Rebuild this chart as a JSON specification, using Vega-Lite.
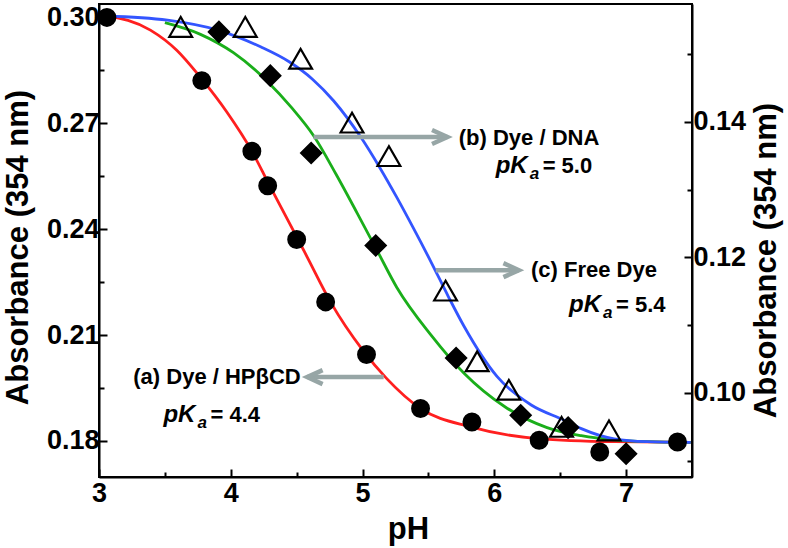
{
  "$schema": "https://vega.github.io/schema/vega-lite/v6.json",
  "width": 593,
  "height": 473,
  "autosize": {"type": "none"},
  "padding": {"left": 99, "top": 4, "right": 96, "bottom": 71},
  "background": "white",
  "config": {
    "view": {"stroke": "black", "strokeWidth": 2},
    "font": "Liberation Sans",
    "axis": {
      "grid": false,
      "domainColor": "black",
      "domainWidth": 2,
      "tickColor": "black",
      "tickWidth": 2,
      "labelFont": "Liberation Sans",
      "labelFontWeight": "bold",
      "labelFontSize": 27,
      "labelColor": "black",
      "titleFont": "Liberation Sans",
      "titleFontWeight": "bold",
      "titleFontSize": 31,
      "titleColor": "black"
    }
  },
  "datasets": {
    "curves": [
      {"s": "a", "ph": 3.05, "ab": 0.3006},
      {"s": "a", "ph": 3.39, "ab": 0.2964},
      {"s": "a", "ph": 3.59, "ab": 0.2907},
      {"s": "a", "ph": 3.77, "ab": 0.2830},
      {"s": "a", "ph": 3.97, "ab": 0.2732},
      {"s": "a", "ph": 4.16, "ab": 0.2621},
      {"s": "a", "ph": 4.29, "ab": 0.2527},
      {"s": "a", "ph": 4.52, "ab": 0.2364},
      {"s": "a", "ph": 4.58, "ab": 0.2321},
      {"s": "a", "ph": 4.76, "ab": 0.2192},
      {"s": "a", "ph": 5.00, "ab": 0.2058},
      {"s": "a", "ph": 5.18, "ab": 0.1978},
      {"s": "a", "ph": 5.44, "ab": 0.1892},
      {"s": "a", "ph": 5.82, "ab": 0.1840},
      {"s": "a", "ph": 6.33, "ab": 0.1807},
      {"s": "a", "ph": 6.91, "ab": 0.1798},
      {"s": "a", "ph": 7.49, "ab": 0.1796},
      {"s": "b", "ph": 3.50, "ab": 0.2985},
      {"s": "b", "ph": 3.77, "ab": 0.2952},
      {"s": "b", "ph": 4.02, "ab": 0.2900},
      {"s": "b", "ph": 4.28, "ab": 0.2818},
      {"s": "b", "ph": 4.46, "ab": 0.2745},
      {"s": "b", "ph": 4.63, "ab": 0.2664},
      {"s": "b", "ph": 4.80, "ab": 0.2555},
      {"s": "b", "ph": 4.96, "ab": 0.2445},
      {"s": "b", "ph": 5.11, "ab": 0.2340},
      {"s": "b", "ph": 5.26, "ab": 0.2235},
      {"s": "b", "ph": 5.52, "ab": 0.2100},
      {"s": "b", "ph": 5.77, "ab": 0.1992},
      {"s": "b", "ph": 6.08, "ab": 0.1897},
      {"s": "b", "ph": 6.40, "ab": 0.1838},
      {"s": "b", "ph": 6.66, "ab": 0.1815},
      {"s": "b", "ph": 6.91, "ab": 0.1803},
      {"s": "b", "ph": 7.16, "ab": 0.1798},
      {"s": "b", "ph": 7.49, "ab": 0.1796},
      {"s": "c", "ph": 3.05, "ab": 0.3004},
      {"s": "c", "ph": 3.52, "ab": 0.2992},
      {"s": "c", "ph": 3.90, "ab": 0.2964},
      {"s": "c", "ph": 4.23, "ab": 0.2916},
      {"s": "c", "ph": 4.44, "ab": 0.2875},
      {"s": "c", "ph": 4.62, "ab": 0.2825},
      {"s": "c", "ph": 4.78, "ab": 0.2764},
      {"s": "c", "ph": 4.99, "ab": 0.2659},
      {"s": "c", "ph": 5.13, "ab": 0.2575},
      {"s": "c", "ph": 5.26, "ab": 0.2490},
      {"s": "c", "ph": 5.39, "ab": 0.2400},
      {"s": "c", "ph": 5.52, "ab": 0.2307},
      {"s": "c", "ph": 5.65, "ab": 0.2210},
      {"s": "c", "ph": 5.77, "ab": 0.2125},
      {"s": "c", "ph": 6.02, "ab": 0.1983},
      {"s": "c", "ph": 6.28, "ab": 0.1902},
      {"s": "c", "ph": 6.53, "ab": 0.1859},
      {"s": "c", "ph": 6.66, "ab": 0.1835},
      {"s": "c", "ph": 6.91, "ab": 0.1806},
      {"s": "c", "ph": 7.16, "ab": 0.1798},
      {"s": "c", "ph": 7.49, "ab": 0.1796}
    ],
    "pts": [
      {"s": "c", "ph": 3.62, "ab": 0.2973},
      {"s": "c", "ph": 4.11, "ab": 0.2973},
      {"s": "c", "ph": 4.53, "ab": 0.2883},
      {"s": "c", "ph": 4.92, "ab": 0.2702},
      {"s": "c", "ph": 5.20, "ab": 0.2607},
      {"s": "c", "ph": 5.63, "ab": 0.2226},
      {"s": "c", "ph": 5.87, "ab": 0.2026},
      {"s": "c", "ph": 6.11, "ab": 0.1945},
      {"s": "c", "ph": 6.51, "ab": 0.1840},
      {"s": "c", "ph": 6.87, "ab": 0.1830},
      {"s": "a", "ph": 3.06, "ab": 0.3000},
      {"s": "a", "ph": 3.78, "ab": 0.2821},
      {"s": "a", "ph": 4.16, "ab": 0.2621},
      {"s": "a", "ph": 4.28, "ab": 0.2523},
      {"s": "a", "ph": 4.50, "ab": 0.2371},
      {"s": "a", "ph": 4.72, "ab": 0.2194},
      {"s": "a", "ph": 5.03, "ab": 0.2045},
      {"s": "a", "ph": 5.44, "ab": 0.1892},
      {"s": "a", "ph": 5.83, "ab": 0.1854},
      {"s": "a", "ph": 6.34, "ab": 0.1802},
      {"s": "a", "ph": 6.80, "ab": 0.1769},
      {"s": "a", "ph": 7.39, "ab": 0.1797},
      {"s": "b", "ph": 3.91, "ab": 0.2959},
      {"s": "b", "ph": 4.30, "ab": 0.2835},
      {"s": "b", "ph": 4.61, "ab": 0.2616},
      {"s": "b", "ph": 5.10, "ab": 0.2354},
      {"s": "b", "ph": 5.71, "ab": 0.2035},
      {"s": "b", "ph": 6.20, "ab": 0.1873},
      {"s": "b", "ph": 6.56, "ab": 0.1838},
      {"s": "b", "ph": 7.00, "ab": 0.1764}
    ],
    "arrows": [
      {"s": "a", "ph": 5.16, "to": 4.58, "ab": 0.1981, "dir": "left"},
      {"s": "b", "ph": 4.628, "to": 5.644, "ab": 0.2661, "dir": "right"},
      {"s": "c", "ph": 5.556, "to": 6.186, "ab": 0.2284, "dir": "right"}
    ],
    "names": [
      {"s": "a", "txt": "(a) Dye / HPβCD", "ph": 3.26, "ab": 0.1981},
      {"s": "b", "txt": "(b) Dye / DNA", "ph": 5.73, "ab": 0.2659},
      {"s": "c", "txt": "(c) Free Dye", "ph": 6.278, "ab": 0.2284}
    ],
    "pkas": [
      {"s": "a", "val": "= 4.4", "ph": 3.489, "ab": 0.1873},
      {"s": "b", "val": "= 5.0", "ph": 6.01, "ab": 0.2578},
      {"s": "c", "val": "= 5.4", "ph": 6.567, "ab": 0.2184}
    ]
  },
  "layer": [
    {
      "data": {"name": "curves"},
      "mark": {"type": "line", "strokeWidth": 2.8, "interpolate": "monotone"},
      "encoding": {
        "x": {
          "field": "ph", "type": "quantitative",
          "scale": {"domain": [3, 7.5], "nice": false, "zero": false},
          "axis": {
            "orient": "bottom",
            "title": "pH",
            "values": [3, 4, 5, 6, 7],
            "format": ".0f",
            "tickSize": -8,
            "labelFlush": false,
            "labelPadding": 11,
            "titlePadding": 8,
            "titleX": 309
          }
        },
        "y": {
          "field": "ab", "type": "quantitative",
          "scale": {"domain": [0.1698, 0.3038], "nice": false, "zero": false},
          "axis": {
            "orient": "left",
            "title": "Absorbance (354 nm)",
            "values": [0.18, 0.21, 0.24, 0.27, 0.3],
            "format": ".2f",
            "tickSize": -8,
            "labelPadding": 8,
            "titlePadding": 12,
            "titleY": 243
          }
        },
        "color": {
          "field": "s", "type": "nominal",
          "scale": {"domain": ["a", "b", "c"], "range": ["#ff1f1f", "#1aae1a", "#3355ff"]},
          "legend": null
        }
      }
    },
    {
      "data": {"name": "pts"},
      "mark": {"type": "point", "opacity": 0},
      "encoding": {
        "x": {
          "field": "ph", "type": "quantitative",
          "axis": {"orient": "bottom", "values": [3.5, 4.5, 5.5, 6.5], "tickSize": -5, "labels": false, "domain": false, "title": null}
        },
        "y": {
          "field": "ab", "type": "quantitative",
          "scale": {"domain": [0.1698, 0.3038], "nice": false, "zero": false},
          "axis": {"orient": "left", "values": [0.195, 0.225, 0.255, 0.285], "tickSize": -5, "labels": false, "domain": false, "title": null}
        }
      }
    },
    {
      "data": {"name": "pts"},
      "mark": {"type": "point", "filled": true, "strokeWidth": 2.2, "opacity": 1},
      "encoding": {
        "x": {"field": "ph", "type": "quantitative", "axis": null},
        "y": {"field": "ab", "type": "quantitative", "scale": {"domain": [0.1698, 0.3038], "nice": false, "zero": false}, "axis": null},
        "shape": {
          "field": "s", "type": "nominal",
          "scale": {"domain": ["a", "b", "c"], "range": ["circle", "diamond", "triangle-up"]},
          "legend": null
        },
        "fill": {
          "field": "s", "type": "nominal",
          "scale": {"domain": ["a", "b", "c"], "range": ["black", "black", "transparent"]},
          "legend": null
        },
        "size": {
          "field": "s", "type": "ordinal",
          "scale": {"domain": ["a", "b", "c"], "range": [280, 520, 380]},
          "legend": null
        },
        "stroke": {"value": "black"}
      }
    },
    {
      "data": {"name": "arrows"},
      "mark": {"type": "rule", "strokeWidth": 4.5, "color": "#97a6a6"},
      "encoding": {
        "x": {"field": "ph", "type": "quantitative", "axis": null},
        "x2": {"field": "to"},
        "y": {"field": "ab", "type": "quantitative", "scale": {"domain": [0.1698, 0.3038], "nice": false, "zero": false}, "axis": null}
      }
    },
    {
      "data": {"name": "arrows"},
      "mark": {"type": "point", "filled": false, "strokeWidth": 4.5, "color": "#97a6a6", "opacity": 1, "size": 196, "strokeJoin": "miter"},
      "encoding": {
        "x": {"field": "to", "type": "quantitative", "axis": null},
        "y": {"field": "ab", "type": "quantitative", "scale": {"domain": [0.1698, 0.3038], "nice": false, "zero": false}, "axis": null},
        "shape": {
          "condition": {"test": "datum.dir === 'left'", "value": "M2.2,-1L0,0L2.2,1"},
          "value": "M-2.2,-1L0,0L-2.2,1"
        }
      }
    },
    {
      "data": {"name": "names"},
      "mark": {"type": "text", "align": "left", "baseline": "middle", "fontSize": 22, "fontWeight": "bold", "font": "Liberation Sans", "color": "black"},
      "encoding": {
        "x": {"field": "ph", "type": "quantitative", "axis": null},
        "y": {"field": "ab", "type": "quantitative", "scale": {"domain": [0.1698, 0.3038], "nice": false, "zero": false}, "axis": null},
        "text": {"field": "txt"}
      }
    },
    {
      "data": {"name": "pkas"},
      "mark": {"type": "text", "align": "left", "baseline": "middle", "fontSize": 24, "fontWeight": "bold", "fontStyle": "italic", "font": "Liberation Sans", "color": "black"},
      "encoding": {
        "x": {"field": "ph", "type": "quantitative", "axis": null},
        "y": {"field": "ab", "type": "quantitative", "scale": {"domain": [0.1698, 0.3038], "nice": false, "zero": false}, "axis": null},
        "text": {"value": "pK"}
      }
    },
    {
      "data": {"name": "pkas"},
      "mark": {"type": "text", "align": "left", "baseline": "middle", "dx": 34, "dy": 8, "fontSize": 17, "fontWeight": "bold", "fontStyle": "italic", "font": "Liberation Sans", "color": "black"},
      "encoding": {
        "x": {"field": "ph", "type": "quantitative", "axis": null},
        "y": {"field": "ab", "type": "quantitative", "scale": {"domain": [0.1698, 0.3038], "nice": false, "zero": false}, "axis": null},
        "text": {"value": "a"}
      }
    },
    {
      "data": {"name": "pkas"},
      "mark": {"type": "text", "align": "left", "baseline": "middle", "dx": 47, "fontSize": 22, "fontWeight": "bold", "font": "Liberation Sans", "color": "black"},
      "encoding": {
        "x": {"field": "ph", "type": "quantitative", "axis": null},
        "y": {"field": "ab", "type": "quantitative", "scale": {"domain": [0.1698, 0.3038], "nice": false, "zero": false}, "axis": null},
        "text": {"field": "val"}
      }
    },
    {
      "data": {"values": [{}]},
      "mark": {"type": "rule", "opacity": 0},
      "encoding": {
        "y": {
          "datum": 0.12, "type": "quantitative",
          "scale": {"domain": [0.0876, 0.1574], "nice": false, "zero": false},
          "axis": {
            "orient": "right",
            "title": "Absorbance (354 nm)",
            "values": [0.1, 0.12, 0.14],
            "format": ".2f",
            "tickSize": -8,
            "labelPadding": 9,
            "titleAngle": 270,
            "titleBaseline": "top",
            "titlePadding": 6,
            "titleY": 256
          }
        }
      }
    },
    {
      "data": {"values": [{}]},
      "mark": {"type": "rule", "opacity": 0},
      "encoding": {
        "y": {
          "datum": 0.12, "type": "quantitative",
          "scale": {"domain": [0.0876, 0.1574], "nice": false, "zero": false},
          "axis": {"orient": "right", "values": [0.09, 0.11, 0.13, 0.15], "tickSize": -5, "labels": false, "domain": false, "title": null}
        }
      }
    }
  ],
  "resolve": {
    "scale": {"y": "independent"},
    "axis": {"x": "independent", "y": "independent"}
  }
}
